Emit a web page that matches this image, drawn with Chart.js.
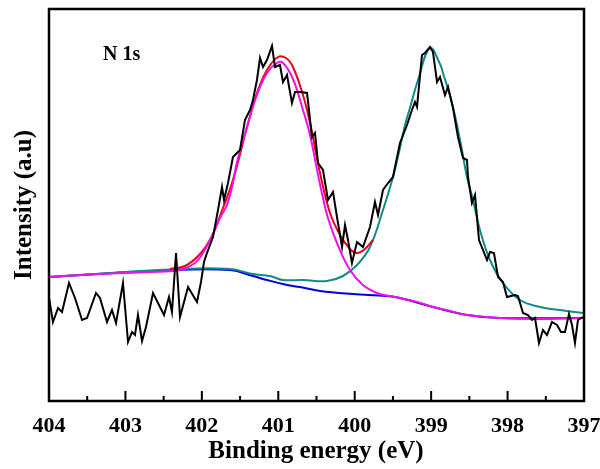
<!DOCTYPE html>
<html>
<head>
<meta charset="utf-8">
<script src="https://cdn.jsdelivr.net/npm/chart.js@4.4.1/dist/chart.umd.min.js"></script>
<style>
  html, body { margin: 0; padding: 0; background: #fff; }
  #wrap { width: 600px; height: 469px; }
</style>
</head>
<body>
<div id="wrap"><canvas id="xps"></canvas></div>
<script>
// N 1s spectrum, binding energy in eV, intensity in arbitrary units
const xTicks = [404, 403, 402, 401, 400, 399, 398, 397];

const rawEnergy = [404.000, 403.948, 403.882, 403.830, 403.738, 403.660, 403.568, 403.503, 403.385, 403.333,
  403.241, 403.176, 403.123, 403.032, 402.966, 402.914, 402.875, 402.836, 402.783, 402.731,
  402.639, 402.574, 402.495, 402.430, 402.391, 402.338, 402.286, 402.181, 402.064, 402.011,
  401.972, 401.933, 401.854, 401.789, 401.736, 401.710, 401.658, 401.593, 401.501, 401.436,
  401.370, 401.331, 401.279, 401.239, 401.200, 401.148, 401.082, 401.043, 400.978, 400.938,
  400.886, 400.821, 400.781, 400.716, 400.624, 400.559, 400.520, 400.480, 400.415, 400.350,
  400.284, 400.232, 400.166, 400.127, 400.088, 400.036, 399.970, 399.892, 399.800, 399.735,
  399.695, 399.630, 399.564, 399.499, 399.408, 399.316, 399.251, 399.211, 399.185, 399.120,
  399.080, 399.015, 398.976, 398.923, 398.884, 398.819, 398.779, 398.714, 398.649, 398.583,
  398.531, 398.518, 398.466, 398.426, 398.374, 398.269, 398.230, 398.178, 398.125, 398.060,
  398.008, 397.903, 397.864, 397.798, 397.733, 397.680, 397.641, 397.589, 397.537, 397.484,
  397.419, 397.353, 397.301, 397.249, 397.196, 397.157, 397.118, 397.079, 397.013];
const rawCounts = [103, 79, 93, 89, 118, 103, 81, 83, 108, 103,
  79, 91, 78, 118, 59, 69, 66, 86, 60, 74,
  108, 98, 86, 104, 89, 148, 84, 114, 99, 119,
  139, 148, 164, 191, 214, 201, 218, 244, 251, 281,
  291, 301, 321, 343, 334, 341, 355, 334, 336, 319,
  326, 298, 309, 309, 308, 264, 268, 238, 231, 201,
  209, 184, 154, 176, 161, 138, 159, 154, 174, 199,
  186, 211, 218, 224, 258, 276, 291, 299, 294, 346,
  348, 354, 349, 319, 324, 306, 314, 293, 264, 243,
  241, 224, 198, 206, 161, 141, 149, 148, 124, 119,
  104, 106, 105, 88, 86, 81, 83, 58, 71, 66,
  79, 76, 69, 69, 87, 76, 58, 81, 84];

// peak 1 component (with background)
const pk1Energy = [404.000, 403.333, 402.679, 402.299, 402.090, 401.985, 401.867, 401.763, 401.671, 401.593,
  401.540, 401.409, 401.279, 401.148, 401.017, 400.938, 400.808, 400.677, 400.585, 400.480,
  400.415, 400.350, 400.232, 400.062, 399.892, 399.709, 399.538, 399.408, 399.185, 398.976,
  398.753, 398.531, 398.099, 397.667, 397.013];
const pk1Counts = [124, 127, 129, 131, 138, 148, 165, 183, 196, 218,
  239, 274, 306, 328, 338, 338, 322, 291, 266, 226,
  203, 183, 158, 131, 116, 108, 105, 103, 99, 94,
  90, 86, 83, 82, 83];

// envelope over the first peak
const envEnergy = [402.417, 402.221, 402.024, 401.867, 401.763, 401.593, 401.409, 401.279, 401.148, 401.004,
  400.899, 400.808, 400.677, 400.585, 400.454, 400.323, 400.192, 400.062, 399.970, 399.866, 399.761];
const envCounts = [132, 135, 147, 165, 185, 221, 274, 308, 331, 344,
  343, 334, 306, 278, 228, 188, 166, 152, 148, 152, 161];

// peak 2 component (with background)
const pk2Energy = [404.000, 403.203, 402.286, 401.632, 401.331, 401.109, 400.938, 400.677, 400.363, 400.153,
  399.970, 399.800, 399.630, 399.499, 399.408, 399.342, 399.277, 399.172, 399.015, 398.884,
  398.845, 398.727, 398.622, 398.531, 398.453, 398.361, 398.230, 398.060, 397.838, 397.576,
  397.314, 397.013];
const pk2Counts = [124, 128, 132, 132, 127, 125, 121, 121, 120, 125,
  136, 154, 191, 224, 253, 276, 293, 321, 353, 337,
  328, 298, 261, 224, 201, 171, 141, 118, 101, 94,
  91, 88];

// background
const bgEnergy = [404.000, 402.378, 401.632, 401.331, 401.148, 400.886, 400.716, 400.454, 400.022, 399.578,
  399.408, 398.976, 398.531, 398.099, 397.013];
const bgCounts = [124, 131, 131, 125, 121, 116, 114, 110, 107, 105,
  103, 94, 86, 83, 83];

function pts(xs, ys) {
  return xs.map((x, i) => ({ x: x, y: ys[i] }));
}

const serifBold = "'Liberation Serif', 'Times New Roman', serif";

const frameAndText = {
  id: 'frameAndText',
  afterDraw(chart) {
    const ctx = chart.ctx;
    const a = chart.chartArea;
    const xs = chart.scales.x;
    ctx.save();
    ctx.strokeStyle = '#000';
    ctx.lineWidth = 2;
    // inside ticks on the bottom axis
    ctx.beginPath();
    xTicks.forEach((t, i) => {
      const px = xs.getPixelForValue(t);
      ctx.moveTo(px, a.bottom);
      ctx.lineTo(px, a.bottom - 10);
      if (i < xTicks.length - 1) {
        const pm = xs.getPixelForValue((t + xTicks[i + 1]) / 2);
        ctx.moveTo(pm, a.bottom);
        ctx.lineTo(pm, a.bottom - 5);
      }
    });
    ctx.stroke();
    ctx.lineWidth = 2.5;
    ctx.strokeRect(a.left, a.top, a.right - a.left, a.bottom - a.top);

    ctx.fillStyle = '#000';
    ctx.textAlign = 'center';
    ctx.textBaseline = 'middle';
    ctx.font = 'bold 25px ' + serifBold;
    ctx.fillText('Binding energy (eV)', 316, 452);
    ctx.translate(25, 205);
    ctx.rotate(-Math.PI / 2);
    ctx.fillText('Intensity (a.u)', 0, 0);
    ctx.restore();

    ctx.save();
    ctx.fillStyle = '#000';
    ctx.font = 'bold 20px ' + serifBold;
    ctx.textAlign = 'left';
    ctx.textBaseline = 'alphabetic';
    ctx.fillText('N 1s', 103, 60);
    ctx.restore();
  }
};

const line = (data, color, width, tension) => ({
  data: data,
  borderColor: color,
  borderWidth: width,
  pointRadius: 0,
  fill: false,
  tension: tension
});

// first dataset is drawn on top
new Chart(document.getElementById('xps'), {
  type: 'line',
  data: {
    datasets: [
      line(pts(rawEnergy, rawCounts), '#000000', 2, 0),
      line(pts(pk1Energy, pk1Counts), '#f010e8', 2, 0.4),
      line(pts(envEnergy, envCounts), '#e8001c', 2, 0.4),
      line(pts(pk2Energy, pk2Counts), '#138a8a', 2, 0.4),
      line(pts(bgEnergy, bgCounts), '#0000e0', 2, 0.4)
    ]
  },
  options: {
    responsive: true,
    maintainAspectRatio: false,
    animation: false,
    layout: { padding: { top: 9, right: 16, left: 0, bottom: 0 } },
    plugins: { legend: { display: false }, tooltip: { enabled: false } },
    scales: {
      x: {
        type: 'linear',
        reverse: true,
        min: 397,
        max: 404,
        afterBuildTicks(scale) { scale.ticks = xTicks.map(v => ({ value: v })); },
        afterFit(scale) {
          scale.height = 68;
          scale.paddingLeft = 0;
          scale.paddingRight = 0;
        },
        grid: { display: false, drawTicks: false },
        border: { display: false },
        ticks: {
          padding: 12,
          color: '#000',
          maxRotation: 0,
          autoSkip: false,
          font: { family: serifBold, size: 22, weight: 'bold' }
        }
      },
      y: {
        min: 0,
        max: 392,
        afterFit(scale) { scale.width = 49; },
        grid: { display: false, drawTicks: false },
        border: { display: false },
        ticks: { display: false }
      }
    }
  },
  plugins: [frameAndText]
});
</script>
</body>
</html>
